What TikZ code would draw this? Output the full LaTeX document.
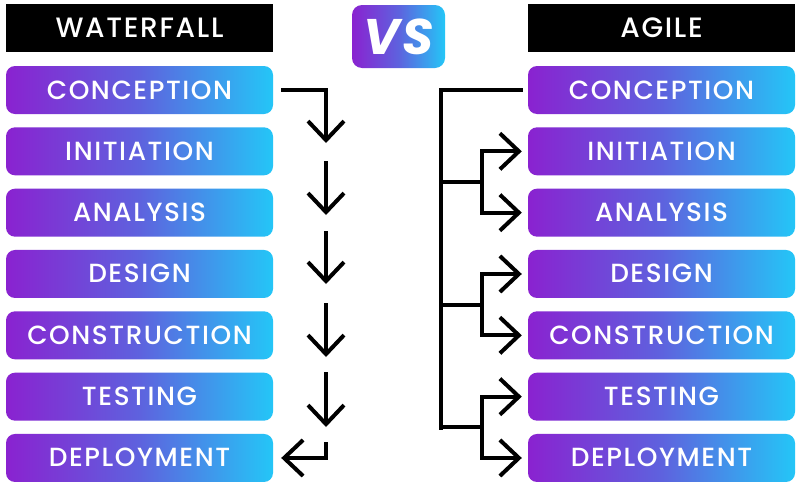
\documentclass[tikz,border=0pt]{standalone}
\usepackage{fontspec}
\setmainfont{Poppins}[UprightFont={Poppins Medium}, BoldFont={Poppins Bold}, BoldItalicFont={Poppins Bold Italic}, LetterSpace=6]
\usetikzlibrary{arrows.meta,calc}
\definecolor{gp}{HTML}{8A22D0}
\definecolor{gm}{HTML}{5E62DE}
\definecolor{gc}{HTML}{24C6F7}
\tikzset{
  stage/.style={rounded corners=9pt, minimum width=267pt, minimum height=48pt,
    left color=gp, right color=gc, middle color=gm, draw=none, text=white,
    font=\fontsize{26.3}{26}\selectfont, inner sep=0pt, text height=18pt, text depth=0pt},
  head/.style={fill=black, minimum width=267pt, minimum height=48pt, text=white,
    font=\fontsize{28}{28}\selectfont, inner sep=0pt, text height=19pt, text depth=0pt},
  vsbox/.style={rounded corners=10pt, minimum width=93pt, minimum height=63pt,
    left color=gp, right color=gc, middle color=gm, text=white,
    font=\fontsize{50}{50}\selectfont\bfseries\itshape, inner sep=0pt, text height=35pt, text depth=0pt},
  flow/.style={line width=4pt, -{Straight Barb[length=19pt,width=36pt]}},
  link/.style={line width=4pt},
}
\begin{document}
\begin{tikzpicture}[x=1pt,y=-1pt]
\useasboundingbox (0,0) rectangle (800,485);
\fill[white] (0,0) rectangle (800,485);
% headers
\node[head] (hw) at (139.5,28) {WATERFALL};
\node[head] (ha) at (661.5,28) {AGILE};
\node[vsbox] (vs) at (398.5,36.5) {VS};
% waterfall stages
\foreach \n/\t [count=\i from 0] in {w1/CONCEPTION,w2/INITIATION,w3/ANALYSIS,w4/DESIGN,w5/CONSTRUCTION,w6/TESTING,w7/DEPLOYMENT}{
  \node[stage] (\n) at (139.5,{90+61.33*\i}) {\t};
}
\foreach \n/\t [count=\i from 0] in {a1/CONCEPTION,a2/INITIATION,a3/ANALYSIS,a4/DESIGN,a5/CONSTRUCTION,a6/TESTING,a7/DEPLOYMENT}{
  \node[stage] (\n) at (661.5,{90+61.33*\i}) {\t};
}
% waterfall connectors
\coordinate (p1s) at ($(w1.east)+(8,0)$);
\coordinate (p1e) at (326,143);
\draw[flow] (p1s) -| (p1e);
\coordinate (p2s) at (326,161); \coordinate (p2e) at (326,215);
\draw[flow] (p2s) -- (p2e);
\coordinate (p3s) at (326,231); \coordinate (p3e) at (326,284);
\draw[flow] (p3s) -- (p3e);
\coordinate (p4s) at (326,303); \coordinate (p4e) at (326,357);
\draw[flow] (p4s) -- (p4e);
\coordinate (p5s) at (326,372); \coordinate (p5e) at (326,427);
\draw[flow] (p5s) -- (p5e);
\coordinate (p6s) at (326,442); \coordinate (p6e) at ($(w7.east)+(8,0)$);
\draw[flow] (p6s) |- (p6e);
% agile connectors
\coordinate (trunk) at (441,90);
\coordinate (trunkend) at (441,430);
\draw[link] ($(a1.west)+(-5,0)$) -- (trunk) -- (trunkend);
\foreach \u/\l [count=\k from 0] in {a2/a3,a4/a5,a6/a7}{
  \coordinate (b\k) at ($(\u)!0.5!(\l)$);
  \draw[link] (441,0 |- b\k) -- (482,0 |- b\k);
  \draw[flow] (482,0 |- b\k) |- ($(\u.west)+(-6,0)$);
  \draw[flow] (482,0 |- b\k) |- ($(\l.west)+(-6,0)$);
}
\end{tikzpicture}
\end{document}
